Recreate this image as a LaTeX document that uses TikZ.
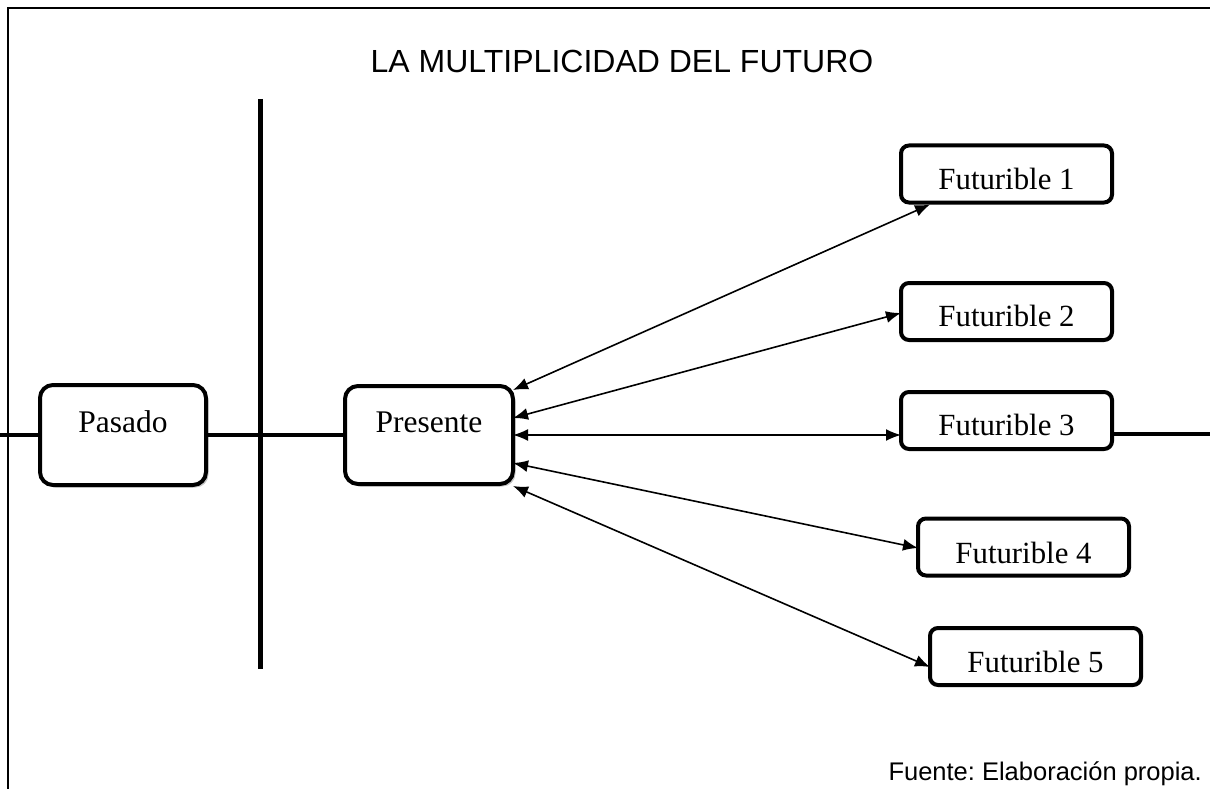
\documentclass[tikz,border=0pt]{standalone}
\usepackage{fontspec}
\setmainfont{Liberation Serif}
\setsansfont{Liberation Sans}
\usetikzlibrary{arrows.meta,calc,shadows}
\frenchspacing
\begin{document}
\begin{tikzpicture}[x=1pt,y=-1pt,
  bigbox/.style={draw=black,line width=4pt,rounded corners=13pt,fill=white,
    drop shadow={shadow xshift=2.5pt,shadow yshift=-2.5pt,fill=gray!45,opacity=1},
    inner sep=0pt,outer sep=0pt},
  futbox/.style={draw=black,line width=4pt,rounded corners=8pt,fill=white,
    drop shadow={shadow xshift=1.5pt,shadow yshift=-1.5pt,fill=gray!25,opacity=1},
    minimum width=211pt,minimum height=57pt,inner sep=0pt,outer sep=0pt},
  boxtxt/.style={font=\fontsize{31.5}{36}\selectfont,inner sep=0pt,anchor=base},
  futtxt/.style={font=\fontsize{30.8}{36}\selectfont,inner sep=0pt,anchor=base},
  axis/.style={line width=4pt},
  dbl/.style={line width=1.6pt,{Latex[length=15pt,width=12pt]}-{Latex[length=15pt,width=12pt]}}
]
\useasboundingbox (0,0) rectangle (1210,789);
% frame
\draw[line width=2pt] (8,795) -- (8,8) -- (1215,8);
% title
\node[font=\sffamily\fontsize{32}{36}\selectfont,inner sep=0pt,anchor=base] (title) at (622,73) {LA MULTIPLICIDAD DEL FUTURO};
% vertical divider
\coordinate (vtop) at (260,99);
\coordinate (vbot) at (260,669);
\draw[line width=5pt] (vtop) -- (vbot);
% boxes
\node[bigbox,minimum width=166pt,minimum height=100pt] (pasado) at (123,435) {};
\node[bigbox,minimum width=168pt,minimum height=98pt] (presente) at (429,435) {};
\node[boxtxt] (pasadoT) at ([yshift=3pt]pasado.center) {Pasado};
\node[boxtxt] (presenteT) at ([yshift=3pt]presente.center) {Presente};
\node[futbox] (f1) at (1006.5,174) {};
\node[futbox] (f2) at (1006.5,311.5) {};
\node[futbox] (f3) at (1006.5,420.5) {};
\node[futbox] (f4) at (1023.5,547) {};
\node[futbox] (f5) at (1035.5,656.5) {};
\node[futtxt] (f1T) at ([yshift=-15pt]f1.center) {Futurible 1};
\node[futtxt] (f2T) at ([yshift=-14.5pt]f2.center) {Futurible 2};
\node[futtxt] (f3T) at ([yshift=-14.5pt]f3.center) {Futurible 3};
\node[futtxt] (f4T) at ([yshift=-16pt]f4.center) {Futurible 4};
\node[futtxt] (f5T) at ([yshift=-16pt]f5.center) {Futurible 5};
% horizontal axis
\coordinate (lend) at (0,435);
\coordinate (rend) at (1215,434);
\draw[axis] (lend) -- (pasado.west);
\draw[axis] (pasado.east) -- (presente.west);
\draw[axis] ([yshift=-13.5pt]f3.east) -- (rend);
% arrows
\draw[dbl] ([yshift=45pt]presente.east) -- ([xshift=29pt,yshift=-2pt]f1.south west);
\draw[dbl] ([yshift=17pt]presente.east) -- ([yshift=-1.5pt]f2.west);
\draw[dbl] ([yshift=0pt]presente.east) -- ([yshift=-14.5pt]f3.west);
\draw[dbl] ([yshift=-28pt]presente.east) -- ([yshift=-1pt]f4.west);
\draw[dbl] ([yshift=-51pt]presente.east) -- ([yshift=-10.5pt]f5.west);
% source
\node[font=\sffamily\fontsize{25.5}{30}\selectfont,inner sep=0pt,anchor=base east] (fuente) at (1202,780) {Fuente: Elaboración propia.};
\end{tikzpicture}
\end{document}
